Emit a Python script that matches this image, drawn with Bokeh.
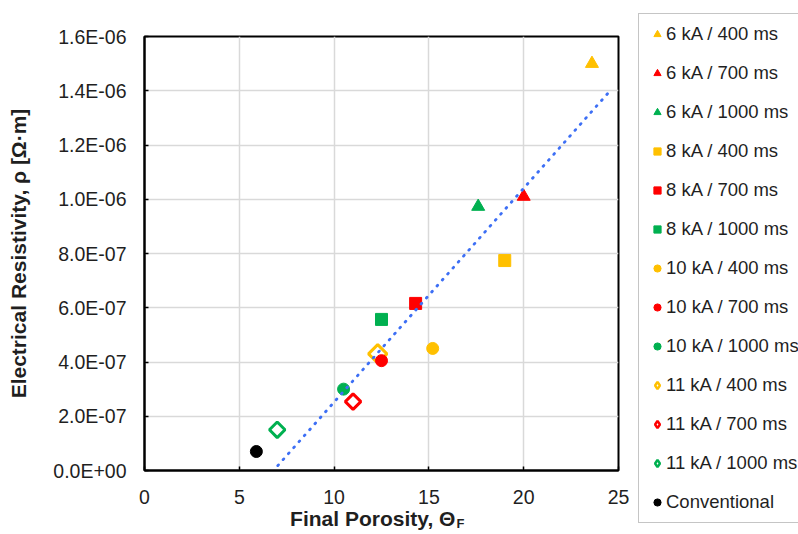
import numpy as np
from bokeh.plotting import figure
from bokeh.layouts import row
from bokeh.models import (Legend, LegendItem, FixedTicker, CustomJSTickFormatter,
                          Range1d, ColumnDataSource, LinearAxis)
from bokeh.embed import file_html
from bokeh.resources import INLINE

# ---------------- data ----------------
series_labels = ["6 kA / 400 ms", "6 kA / 700 ms", "6 kA / 1000 ms",
                 "8 kA / 400 ms", "8 kA / 700 ms", "8 kA / 1000 ms",
                 "10 kA / 400 ms", "10 kA / 700 ms", "10 kA / 1000 ms",
                 "11 kA / 400 ms", "11 kA / 700 ms", "11 kA / 1000 ms",
                 "Conventional"]
porosity = [23.6, 20.0, 17.6,
            19.0, 14.3, 12.5,
            15.2, 12.5, 10.5,
            12.3, 11.0, 7.0,
            5.9]
resistivity = [1.50e-6, 1.01e-6, 0.973e-6,
               0.774e-6, 0.616e-6, 0.557e-6,
               0.45e-6, 0.405e-6, 0.30e-6,
               0.43e-6, 0.254e-6, 0.15e-6,
               0.07e-6]
trend_x = [7.03, 24.52]
trend_y = [0.018e-6, 1.397e-6]
x_ticks = [0, 5, 10, 15, 20, 25]
y_ticks = [0, 2e-7, 4e-7, 6e-7, 8e-7, 1.0e-6, 1.2e-6, 1.4e-6, 1.6e-6]
x_title = "Final Porosity, Θ"
x_title_sub = "F"
y_title = "Electrical Resistivity, ρ [Ω·m]"

# ---------------- styles ----------------
YEL, RED, GRN, BLK = "#FFC000", "#FF0000", "#00B050", "#000000"
styles = [
    dict(marker="triangle", color=YEL, size=13),
    dict(marker="triangle", color=RED, size=13),
    dict(marker="triangle", color=GRN, size=13),
    dict(marker="square", color=YEL, size=12),
    dict(marker="square", color=RED, size=12),
    dict(marker="square", color=GRN, size=12),
    dict(marker="circle", color=YEL, size=12),
    dict(marker="circle", color=RED, size=12),
    dict(marker="circle", color=GRN, size=12),
    dict(marker="diamond", color=YEL, size=13),
    dict(marker="diamond", color=RED, size=11),
    dict(marker="diamond", color=GRN, size=11),
    dict(marker="circle", color=BLK, size=12),
]
draw_order = [0, 1, 2, 3, 4, 5, 6, 8, 9, 7, 10, 11, 12]

FONT = "Liberation Sans"
TXT = "#1f1f1f"

# ---------------- main plot ----------------
p = figure(width=637, height=534, output_backend="svg", toolbar_location=None,
           x_range=Range1d(0, 25), y_range=Range1d(0, 1.6e-6),
           min_border_left=144, min_border_right=19,
           min_border_top=36, min_border_bottom=64)
p.frame_align = False
p.background_fill_color = "white"
p.border_fill_color = "white"
p.outline_line_color = "black"
p.outline_line_width = 2

p.xaxis.ticker = FixedTicker(ticks=x_ticks)
p.yaxis.ticker = FixedTicker(ticks=y_ticks)
p.yaxis.formatter = CustomJSTickFormatter(code="""
    const s = tick.toExponential(1);
    const parts = s.split('e');
    const n = parseInt(parts[1]);
    const a = Math.abs(n);
    return parts[0] + 'E' + (n < 0 ? '-' : '+') + (a < 10 ? '0' : '') + a;
""")

for ax in (p.xaxis[0], p.yaxis[0]):
    ax.axis_line_color = "black"
    ax.axis_line_width = 2
    ax.major_tick_in = 4
    ax.major_tick_out = 0
    ax.major_tick_line_color = "black"
    ax.major_tick_line_width = 1.5
    ax.minor_tick_line_color = None
    ax.major_label_text_font = FONT
    ax.major_label_text_font_size = "19.5px"
    ax.major_label_text_color = TXT
    ax.axis_label_text_font = FONT
    ax.axis_label_text_font_size = "21px"
    ax.axis_label_text_font_style = "bold"
    ax.axis_label_text_color = TXT
p.xaxis.major_label_standoff = 19
p.yaxis.major_label_standoff = 18

p.yaxis.axis_label = y_title
p.yaxis.axis_label_standoff = 20
p.xaxis.axis_label = x_title + "\u00a0\u00a0\u00a0"
p.xaxis.axis_label_standoff = 0

# subscript "F" of the x title, drawn as the label of an extra axis without line or ticks
sub_axis = LinearAxis(ticker=FixedTicker(ticks=[16.67]),
                      major_label_overrides={16.67: x_title_sub},
                      axis_line_color=None, major_tick_line_color=None,
                      major_tick_in=0, major_tick_out=0,
                      minor_tick_line_color=None, minor_tick_in=0, minor_tick_out=0,
                      major_label_standoff=-17,
                      major_label_text_font=FONT, major_label_text_font_size="13px",
                      major_label_text_font_style="bold", major_label_text_color=TXT)
p.add_layout(sub_axis, "below")

p.xgrid.grid_line_color = "#d9d9d9"
p.ygrid.grid_line_color = "#d9d9d9"
p.xgrid.grid_line_width = 1.5
p.ygrid.grid_line_width = 1.5

for i in draw_order:
    st = styles[i]
    src = ColumnDataSource(dict(x=[porosity[i]], y=[resistivity[i]]))
    if st["marker"] == "diamond":
        p.scatter("x", "y", source=src, marker="square", angle=np.pi / 4,
                  size=st["size"], fill_color="white", line_color=st["color"],
                  line_width=3)
    else:
        p.scatter("x", "y", source=src, marker=st["marker"], size=st["size"],
                  fill_color=st["color"], line_color=st["color"], line_width=1)

p.line(trend_x, trend_y, line_color="#3D6FF5", line_width=2.8,
       line_dash="1 7", line_cap="round")

# ---------------- legend panel ----------------
lp = figure(width=161, height=534, output_backend="svg", toolbar_location=None,
            x_range=Range1d(0, 1), y_range=Range1d(0, 1),
            x_axis_location=None, y_axis_location=None,
            min_border_left=0, min_border_right=0, min_border_top=0, min_border_bottom=0)
lp.frame_align = False
lp.outline_line_color = None
lp.background_fill_color = "white"
lp.border_fill_color = "white"
lp.grid.visible = False

items = []
for i, lab in enumerate(series_labels):
    st = styles[i]
    src = ColumnDataSource(dict(x=[porosity[i]], y=[resistivity[i]]))
    if st["marker"] == "diamond":
        r = lp.scatter("x", "y", source=src, marker="diamond", size=st["size"],
                       fill_color="white", line_color=st["color"], line_width=2.5)
    else:
        r = lp.scatter("x", "y", source=src, marker=st["marker"], size=st["size"],
                       fill_color=st["color"], line_color=st["color"], line_width=1)
    items.append(LegendItem(label=lab, renderers=[r]))

legend = Legend(items=items, location=(1, 11), margin=0, padding=9,
                spacing=17, glyph_width=18, glyph_height=22, label_height=22,
                label_standoff=0, label_text_font=FONT, label_text_font_size="18.5px",
                label_text_color=TXT, border_line_color="#8c8c8c", border_line_width=1.5,
                background_fill_color="white", background_fill_alpha=1.0)
lp.add_layout(legend, "center")

layout = row(p, lp, spacing=0)
open("out.html", "w").write(file_html(layout, INLINE))
